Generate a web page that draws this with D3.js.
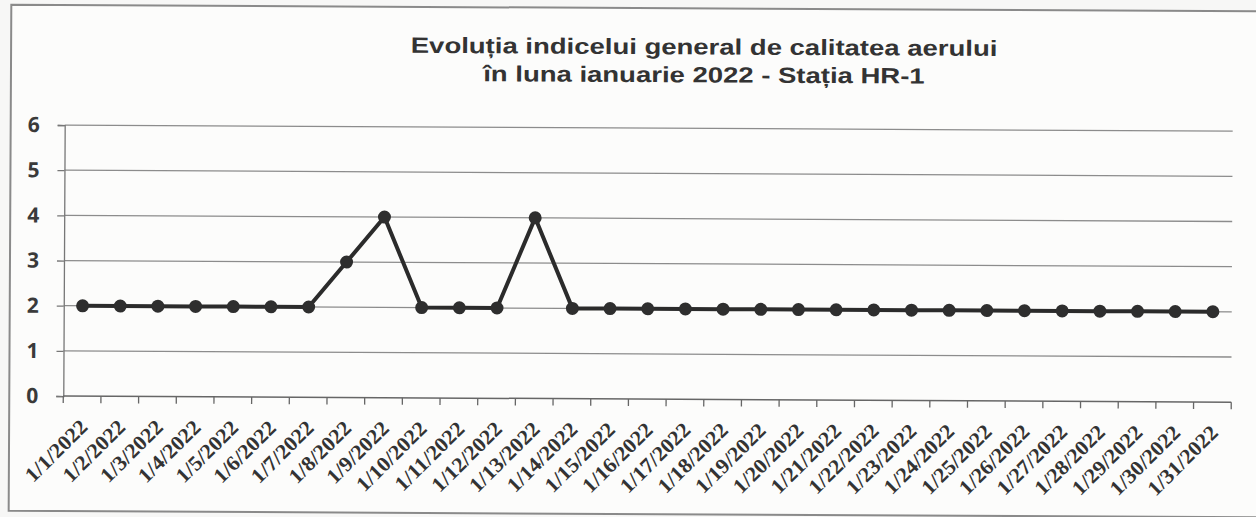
<!DOCTYPE html>
<html>
<head>
<meta charset="utf-8">
<script src="https://cdn.jsdelivr.net/npm/d3@7"></script>
<style>
  body { margin: 0; background: #f7f7f6; }
  svg { display: block; }
  .title { font-family: "Liberation Sans", Arial, sans-serif; font-weight: bold; font-size: 22px; fill: #333; }
  .ylab { font-family: "Open Sans", "DejaVu Sans", sans-serif; font-weight: bold; font-size: 21px; fill: #3a3a3a; }
  .xlab { font-family: "Liberation Serif", "Times New Roman", serif; font-weight: bold; font-size: 21px; fill: #333; }
</style>
</head>
<body>
<div id="chart"></div>
<script>
// chart values
var days = [];
for (var i = 1; i <= 31; i++) days.push("1/" + i + "/2022");
var values = [2, 2, 2, 2, 2, 2, 2, 3, 4, 2, 2, 2, 4, 2, 2, 2,
              2, 2, 2, 2, 2, 2, 2, 2, 2, 2, 2, 2, 2, 2, 2];
var yTicks = [0, 1, 2, 3, 4, 5, 6];
var titleLines = ["Evoluția indicelui general de calitatea aerului",
                  "în luna ianuarie 2022 - Stația HR-1"];

var width = 1256, height = 517;
var margin = {top: 128, right: 24, bottom: 118, left: 64};

var svg = d3.select("#chart").append("svg")
    .attr("width", width)
    .attr("height", height);

// scanned page is slightly tilted
var root = svg.append("g")
    .attr("transform", "rotate(0.3," + width / 2 + "," + height / 2 + ")");

// frame (right side is cut off in the scan)
root.append("path")
    .attr("d", "M" + (width + 20) + ",8 L10,8 L10,514 L" + (width + 20) + ",514")
    .attr("fill", "#fcfcfb")
    .attr("stroke", "#8a8a8a")
    .attr("stroke-width", 2);

// the scan is stretched sideways, so the title is widened a bit
root.selectAll("text.title").data(titleLines).enter().append("text")
    .attr("class", "title")
    .attr("text-anchor", "middle")
    .attr("transform", function(d, i) {
        return "translate(703," + (54 + i * 28) + ") scale(1.25,1)";
    })
    .text(function(d) { return d; });

var plotW = width - margin.left - margin.right;
var plotH = height - margin.top - margin.bottom;

var g = root.append("g")
    .attr("transform", "translate(" + margin.left + "," + margin.top + ")");

var xScale = d3.scaleBand()
    .domain(days)
    .range([0, plotW]);

var yScale = d3.scaleLinear()
    .domain([0, 6])
    .range([plotH, 0]);

// horizontal gridlines
g.selectAll("line.grid").data(yTicks.filter(function(d) { return d > 0; }))
    .enter().append("line")
    .attr("class", "grid")
    .attr("x1", 0)
    .attr("x2", plotW)
    .attr("y1", function(d) { return yScale(d); })
    .attr("y2", function(d) { return yScale(d); })
    .attr("stroke", "#8c8c8c")
    .attr("stroke-width", 1.3);

// y axis
var yAxis = g.append("g")
    .call(d3.axisLeft(yScale).tickValues(yTicks).tickSize(7).tickPadding(18).tickFormat(d3.format("d")));
yAxis.select(".domain").attr("stroke", "#777").attr("stroke-width", 1.3);
yAxis.selectAll(".tick line").attr("stroke", "#777").attr("stroke-width", 1.3);
yAxis.selectAll(".tick text").attr("class", "ylab").attr("fill", null);

// x axis, ticks at band boundaries
var xAxisG = g.append("g").attr("transform", "translate(0," + plotH + ")");
xAxisG.append("line")
    .attr("x1", 0).attr("x2", plotW)
    .attr("stroke", "#666").attr("stroke-width", 1.5);
var bounds = days.map(function(d) { return xScale(d); }).concat([plotW]);
xAxisG.selectAll("line.tick").data(bounds).enter().append("line")
    .attr("class", "tick")
    .attr("x1", function(d) { return d; })
    .attr("x2", function(d) { return d; })
    .attr("y1", 0).attr("y2", 7)
    .attr("stroke", "#666").attr("stroke-width", 1.3);

xAxisG.selectAll("text.xlab").data(days).enter().append("text")
    .attr("class", "xlab")
    .attr("text-anchor", "end")
    .attr("transform", function(d) {
        return "translate(" + (xScale(d) + xScale.bandwidth() / 2 + 7) + ",32) rotate(-45) scale(1.05,1)";
    })
    .text(function(d) { return d; });

// series line and markers
var line = d3.line()
    .x(function(d, i) { return xScale(days[i]) + xScale.bandwidth() / 2; })
    .y(function(d) { return yScale(d); });

g.append("path")
    .datum(values)
    .attr("d", line)
    .attr("fill", "none")
    .attr("stroke", "#2b2b2b")
    .attr("stroke-width", 4)
    .attr("stroke-linejoin", "round");

g.selectAll("circle.pt").data(values).enter().append("circle")
    .attr("class", "pt")
    .attr("cx", function(d, i) { return xScale(days[i]) + xScale.bandwidth() / 2; })
    .attr("cy", function(d) { return yScale(d); })
    .attr("r", 6.5)
    .attr("fill", "#2e2e2e");
</script>
</body>
</html>
